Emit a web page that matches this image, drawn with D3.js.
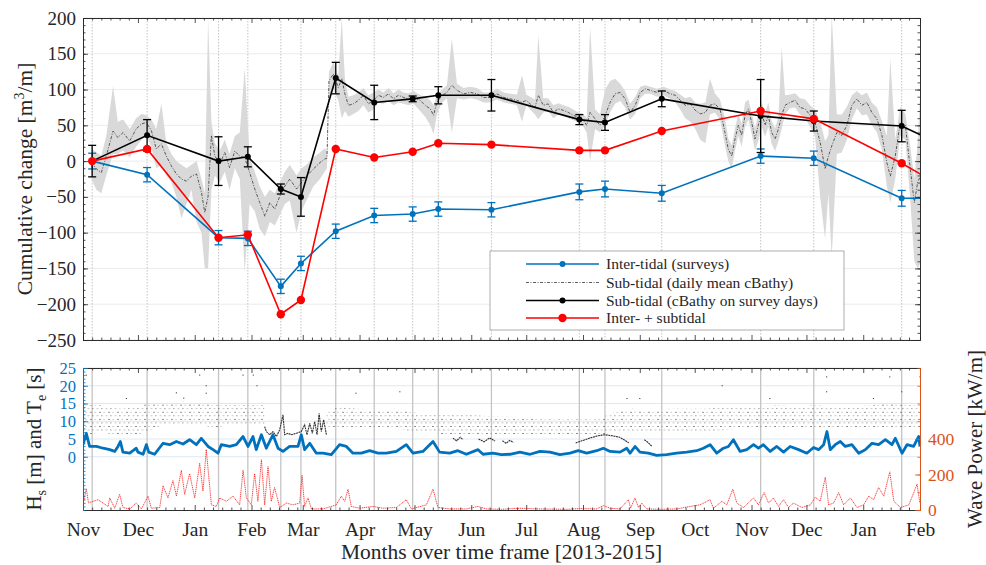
<!DOCTYPE html>
<html><head><meta charset="utf-8">
<script src="https://cdn.jsdelivr.net/npm/d3@7"></script>
<style>
body{margin:0;background:#fff;}
text{font-family:"Liberation Serif","Times New Roman",serif;}
</style></head><body>
<svg id="c" width="986" height="565" font-family="Liberation Serif, serif"></svg>
<script>
// ---------------- DATA ----------------
const startDate = "2013-11-01";
const endDate = "2015-02-01";
const surveyDates = ["2013-11-06","2013-12-06","2014-01-14","2014-01-30","2014-02-17","2014-02-28","2014-03-19","2014-04-09","2014-04-30","2014-05-14","2014-06-12","2014-07-30","2014-08-13","2014-09-13","2014-11-06","2014-12-05","2015-01-22","2015-02-10"];
const interTidal    = [0,-19,-107,-108,-175,-143,-98,-76,-74,-67,-68,-43,-39,-45,7,4,-52,-52];
const interTidalErr = [11,10,10,10,10,10,10,10,10,10,10,11,11,11,10,10,11,10];
const subTidal      = [0,36,0,6,-39,-50,116,82,87,92,92,58,54,87,63,56,49,26];
const subTidalErr   = [22,22,34,14,7,27,22,24,4,12,22,7,11,11,51,14,22,0];
const interPlusSub  = [0,17,-107,-103,-214,-194,17,5,13,25,23,15,15,42,70,59,-3,-31];

// daily mean cBathy (days since startDate) with min/max envelope
const cbDay  = [4.6,7.3,10,12.7,16.4,19,21.9,25.5,29,32,34.6,37.3,40,42.8,45.5,48.3,51,53.7,56.5,59.2,62,64.7,66.5,68.3,70.1,72,74.7,77.4,80,82.9,85.6,88.3,91,93.8,96.5,99.3,102,104.7,107.5,110.2,112.9,116.6,119.3,122,125.8,129.4,132,133.2,134.3,136.7,139.4,141.3,143,144.9,147.6,150.4,153.1,155.8,158.6,161.3,164,166.8,169.5,172.2,175,177.7,180.5,184.1,186.8,189.6,191.4,193.2,196,198.7,201.4,204.2,207.8,211.5,215.1,218.7,222.4,226,229.7,233.3,236.9,239.7,242,244.1,246.8,248.6,251.3,254,256.8,259.5,262.3,265,267.7,270.5,273.2,275,276.9,279.6,282.3,285.1,287.8,290.5,293.3,296,298.7,301.5,304.2,307,309.7,313.3,317,320.6,323.4,326.1,328.8,331.6,334.3,337,339.8,342.3,345,347.8,350.5,352.3,354.2,356,357.8,359.6,361.5,363.3,365.1,366.9,368.7,370.6,372.4,374.2,376,377.9,379.7,381.5,383.3,386.1,388.8,391.5,394.3,397,399.7,402.5,405.2,407,408.8,411.6,414.3,417.1,419.8,422.5,425.3,428,430.7,433.5,436.2,438.9,440.8,443.5,446.2,449,451.7,453.9,455.7,457.2];
const cbMean = [-2,-11,-16,7,42,33,40,28,45,52,54,43,17,24,7,-7,-18,-25,-28,-21,-18,-44,-72,-49,36,7,-4,12,-9,14,7,5,-16,-39,-58,-77,-58,-67,-49,-35,-25,-39,-30,-21,-11,-2,3,4,112,122,103,115,94,78,80,85,92,80,85,92,89,94,87,92,89,87,89,85,78,73,64,82,92,96,106,99,94,96,94,89,89,94,89,87,85,82,85,80,75,92,78,80,68,73,71,68,64,61,57,50,68,59,50,64,82,94,96,87,68,78,96,101,99,96,99,94,92,85,78,80,71,66,68,78,80,73,40,17,7,31,50,36,64,73,54,31,50,68,50,64,40,31,45,64,78,82,85,75,73,64,54,26,-11,7,21,40,36,50,78,87,78,82,68,59,36,-2,-21,7,54,50,-11,-58,-30,-21];
const cbLo   = [-25,-40,-45,-20,10,10,15,5,20,30,35,20,-10,-5,-20,-30,-50,-80,-60,-40,-85,-100,-150,-150,-40,-20,-30,-15,-40,-10,-25,-155,-60,-70,-95,-105,-85,-90,-75,-60,-55,-100,-70,-55,-35,-25,-15,-10,90,100,85,60,70,62,66,70,78,68,72,82,80,84,78,82,80,78,80,70,62,50,38,65,82,88,40,88,86,88,86,82,82,86,82,80,78,55,78,72,65,58,68,70,60,65,64,60,57,54,48,40,0,45,40,50,68,80,84,75,58,66,88,94,94,90,92,87,82,72,60,55,45,30,25,65,68,58,22,0,-10,15,35,20,48,58,38,15,28,48,34,48,24,14,28,45,65,74,75,65,60,48,35,-50,-109,-45,-135,10,12,30,58,74,64,65,50,40,15,-35,-58,-25,35,30,-55,-140,-150,-143];
const cbHi   = [18,12,8,35,105,55,58,45,60,66,64,58,45,80,25,10,0,-5,-10,-5,0,-25,-45,200,55,25,15,30,10,35,40,130,5,-15,-35,-50,-40,-45,-30,-15,-5,-20,-10,-5,5,12,18,14,125,138,120,199,115,90,92,96,102,92,96,100,96,102,95,100,96,95,98,92,90,85,78,92,100,106,171,108,102,104,102,96,96,101,96,94,93,120,93,90,86,176,88,88,78,81,78,76,72,68,66,60,187,72,66,100,112,115,108,98,80,90,104,106,104,101,104,100,98,93,88,90,82,80,82,115,95,86,60,32,22,46,66,52,82,86,68,46,66,82,66,82,56,46,62,159,92,93,95,88,86,78,72,55,28,36,205,65,65,76,92,98,92,96,82,75,56,35,143,30,76,66,20,-25,25,100];

// significant wave height Hs [m]
const hsDay = [0,1.8,3.6,7.3,11,14.6,17.3,19.1,20.4,21.8,25.5,29.1,30,32.8,34.6,35.9,39.1,43.7,47.3,51,54.6,58.2,61.9,64.6,68.3,71,73.7,75.5,80.1,83.7,87.4,90.1,92.8,94.6,97.4,100.1,103.7,106.5,109.2,112.8,117.4,119.2,121,123.8,127.4,131,135.6,140.1,143.8,147.4,152,156.5,161.1,165.6,171.1,176.5,180.2,185.6,191.1,194.7,200.2,204.7,209.3,215.7,218.4,223.9,228.4,233.1,238.6,244.1,249.5,255,260.4,265.9,270.4,275,280.5,284.1,287.8,293.2,296.9,298.7,301.4,304.1,308.7,313.2,318.7,324.1,329.6,335.1,338.7,342.4,346,349.7,352.4,355.1,358.8,362.4,366.1,368.8,371.5,375.2,378.8,382.5,386.1,390.7,395.2,398.9,401.6,404.4,406.2,408,410.7,413.5,416.2,419.8,423.5,427.1,430.8,434.4,438.1,441.7,443.5,447.2,449.9,453.5,456.3,457];
const hsVal = [3.4,6.6,2.9,2.9,2.4,2.0,1.5,2.9,4.3,1.3,1.0,2.4,1.3,0.7,3.4,1.3,0.7,3.8,3.4,4.3,3.6,4.8,3.4,5.2,2.9,2.0,1.0,3.4,2.9,3.4,5.7,2.9,5.7,2.0,6.2,2.4,6.2,2.4,1.5,2.9,2.9,6.2,2.0,3.8,1.0,1.0,0.6,3.4,2.9,1.0,1.0,1.7,1.0,1.0,1.5,3.4,1.0,1.5,4.3,1.3,1.0,1.7,0.7,2.0,0.7,1.0,0.6,0.7,1.3,0.7,1.5,1.3,0.6,1.0,1.7,1.0,1.7,2.4,1.5,1.3,2.4,1.0,2.9,1.3,1.0,0.4,0.6,1.0,1.3,1.7,2.4,3.4,1.0,2.4,2.9,4.8,1.5,2.0,3.4,2.4,3.4,1.5,2.9,1.3,2.9,2.0,1.0,2.6,2.0,3.4,7.1,2.0,3.4,4.3,2.9,3.4,1.0,2.0,3.8,3.4,4.8,3.4,5.2,1.0,3.4,2.9,5.7,2.9];

// energy period Te [s]: main scatter band (lower / upper)
const teBandDay = [0,10,20,30,35,45,55,65,72,80,90,99,null,133,140,150,160,170,180,190,200,210,220,230,240,250,260,270,280,290,300,310,320,330,340,350,360,370,380,390,400,410,420,430,440,450,457];
const teBandLo  = [6,7,6,6,7,9,9,9,8,9,9,9,null,8,8,8,8,8,7,7,6,6,6,6,6,6,6,6,6,7,7,7,7,7,7,7.5,8,8,8,8,8,8,8,8,8,8,8];
const teBandHi  = [14.5,14.5,13.5,14,15,15,15.5,15,14.5,14.5,14.5,14.5,null,13,14,13.5,13,13.5,12.5,12,12,12,11.5,11.5,11,10.5,10.5,10.5,10.5,12.5,13.5,13,13.5,13.5,13.5,14,14,14,14.5,14,14.5,14,14,14.5,15,14.5,14.5];
// Te dense (continuous) stretches
const teLineDay = [99.2,100.1,101.9,103.7,105.6,107.4,109.2,110.1,111.9,113.8,116.5,119.2,121,122.3,123.8,125.2,126.5,127.8,128.9,130.1,131.4,132.9,null,202,204,206,207.5,null,216,219,222,225,null,229,231,233,235,null,269,273,277,281,285,289,293,296,298,null,306.5,308.5,310.5];
const teLineVal = [8.5,7.1,6.2,7.1,5.7,7.6,11.8,6.2,6.6,6.2,6.6,7.1,9.0,6.2,9.4,6.6,9.9,6.2,12.2,7.1,10.4,6.2,null,5.2,4.5,5.5,4.8,null,5.0,4.2,5.3,4.4,null,4.5,3.8,4.6,4.0,null,3.9,4.6,5.3,5.9,6.2,5.9,5.5,4.6,3.9,null,4.8,4.0,3.0];
// isolated long-period Te readings
const teOutDay = [1.8,23.7,51,55,63.7,67.3,67.3,87.4,92,93,95,149,173,297,304,349,375,406,406,431.6,440.5,447,457];
const teOutVal = [23,16.4,18,16.5,23,20,17.9,23,25,23,20,17.9,18.3,16.4,16.4,20,16.4,22.5,18.3,16.4,22.5,18.3,22.5];

// wave power [kW/m]
const wpDay = [0,1.8,3,5.5,8.2,11,13.7,14.6,17.3,20,21.8,25.5,29.1,31.9,35.5,37.3,41.9,43.7,46.4,49.1,51,53.7,55.5,58.2,61,63.7,65.5,67.3,70.1,72.8,74.6,78.3,81.9,85.5,87.4,89.2,91.9,93.7,95.5,97.4,99.2,101,102.8,104.6,107.4,111,114.7,118.3,119.6,121,122.9,124.7,131,138.3,141,142.9,144.7,146.5,151.1,158.3,163.8,171.1,176.5,179.3,187.5,191.1,193.8,200.2,209.3,215.7,220.2,228.4,238.6,249.5,264.1,271.4,280.5,284.1,287.8,293.2,297.8,299,301.4,303.3,305.1,307.8,315.1,324.1,331.4,336.9,342.4,344.2,348.8,351.5,354.8,357,360.6,366.1,368.8,371.9,374.3,377,379.7,382.5,385.2,387.9,392.5,397.1,399.8,402.5,405.3,407.1,409.8,412.6,415.3,419,422.6,426.2,429,431.7,434.4,437.2,440.5,442.7,446.3,450.9,453.6,455.4,456.9];
const wpVal = [29,120,40,49,58,39,20,68,10,88,14,6,39,6,78,10,14,137,68,166,78,224,88,205,68,263,107,341,29,20,68,49,78,29,224,68,29,205,49,283,29,244,49,127,14,39,29,39,195,20,68,6,6,29,78,49,117,20,10,20,10,14,58,6,29,117,14,6,6,20,6,4,10,6,4,8,6,25,10,6,58,10,68,14,39,6,4,6,20,29,58,10,49,29,117,39,14,68,29,98,39,68,20,58,14,39,14,29,72,49,185,29,39,98,29,68,14,29,78,58,127,78,215,49,14,29,98,146,39];

const topTicks = [-250,-200,-150,-100,-50,0,50,100,150,200];
const hsTicks = [0,5,10,15,20,25];
const wpTicks = [0,200,400];
const legendLabels = ["Inter-tidal (surveys)","Sub-tidal (daily mean cBathy)","Sub-tidal (cBathy on survey days)","Inter- + subtidal"];

// ---------------- DRAW ----------------
const FONT="Liberation Serif, Times New Roman, serif";
const BLUE="#0072BD", RED="#FF0000", ORANGE="#D95319", AX="#262626";
const svg = d3.select("#c");
const parse = d3.timeParse("%Y-%m-%d");
const t0 = parse(startDate);
const dd = d => new Date(t0.getTime() + d*86400000);
const L=83, R=920, T1=18, B1=340, T2=368, B2=510;
const x = d3.scaleTime().domain([parse(startDate), parse(endDate)]).range([L,R]);
const yT = d3.scaleLinear().domain([-250,200]).range([B1,T1]);
const yL = d3.scaleLinear().domain([-15,25]).range([B2,T2]);
const yR = d3.scaleLinear().domain([0,800]).range([B2,T2]);
const sDates = surveyDates.map(parse);

const defs = svg.append("defs");
defs.append("clipPath").attr("id","clipT").append("rect").attr("x",L).attr("y",T1).attr("width",R-L).attr("height",B1-T1);
defs.append("clipPath").attr("id","clipB").append("rect").attr("x",L).attr("y",T2).attr("width",R-L).attr("height",B2-T2);
const ph = yL(0)-yL(1);
const pat = defs.append("pattern").attr("id","tedots").attr("patternUnits","userSpaceOnUse")
  .attr("width",9).attr("height",ph*2);
[[0,0,2,0.8,0.65],[4.5,0,1.2,0.8,0.45],[2,ph,1.6,0.8,0.55],[6.5,ph,2,0.8,0.35]].forEach(r=>
  pat.append("rect").attr("x",r[0]).attr("y",r[1]).attr("width",r[2]).attr("height",r[3]).attr("fill","#333").attr("opacity",r[4]));

// ---- TOP PANEL ----
const gT = svg.append("g");
gT.selectAll(".hg").data(topTicks).join("line")
  .attr("x1",L).attr("x2",R).attr("y1",d=>yT(d)).attr("y2",d=>yT(d))
  .attr("stroke","#e6e6e6").attr("stroke-width",0.8);
const pT = gT.append("g").attr("clip-path","url(#clipT)");
pT.selectAll(".vg").data(sDates.filter(d=>d<=parse(endDate))).join("line")
  .attr("x1",d=>x(d)).attr("x2",d=>x(d)).attr("y1",T1).attr("y2",B1)
  .attr("stroke","#b5b5b5").attr("stroke-width",0.8).attr("stroke-dasharray","1.5,1.5");

const cb = cbDay.map((d,i)=>({t:dd(d), m:cbMean[i], lo:cbLo[i], hi:cbHi[i]}));
pT.append("path").datum(cb)
  .attr("d", d3.area().x(d=>x(d.t)).y0(d=>yT(d.lo)).y1(d=>yT(d.hi)))
  .attr("fill","#d9d9d9").attr("stroke","none");
pT.append("path").datum(cb)
  .attr("d", d3.line().x(d=>x(d.t)).y(d=>yT(d.m)))
  .attr("fill","none").attr("stroke","#2a2a2a").attr("stroke-width",0.75).attr("stroke-dasharray","3,1.5,1,1.5");

function series(vals, errs, color, r, lw){
  const data = sDates.map((t,i)=>({t, v:vals[i], e: errs?errs[i]:0}));
  pT.append("path").datum(data).attr("d", d3.line().x(d=>x(d.t)).y(d=>yT(d.v)))
    .attr("fill","none").attr("stroke",color).attr("stroke-width",lw);
  if (errs){
    const g = pT.append("g").attr("stroke",color).attr("stroke-width",1.3);
    data.filter(d=>d.e>0).forEach(d=>{
      const cx=x(d.t);
      g.append("line").attr("x1",cx).attr("x2",cx).attr("y1",yT(d.v-d.e)).attr("y2",yT(d.v+d.e));
      g.append("line").attr("x1",cx-4).attr("x2",cx+4).attr("y1",yT(d.v-d.e)).attr("y2",yT(d.v-d.e));
      g.append("line").attr("x1",cx-4).attr("x2",cx+4).attr("y1",yT(d.v+d.e)).attr("y2",yT(d.v+d.e));
    });
  }
  pT.append("g").selectAll("circle").data(data).join("circle")
    .attr("cx",d=>x(d.t)).attr("cy",d=>yT(d.v)).attr("r",r).attr("fill",color);
}
series(interTidal, interTidalErr, BLUE, 3, 1.6);
series(subTidal, subTidalErr, "#000", 3, 1.6);
series(interPlusSub, null, RED, 4.2, 1.6);

function frameAxes(g, top, bottom){
  const months = d3.timeMonth.range(parse(startDate), d3.timeDay.offset(parse(endDate),1));
  const minor = [];
  months.forEach(m=>[5,10,15,20,25].forEach(k=>{const d=d3.timeDay.offset(m,k); if(d<parse(endDate)) minor.push(d);}));
  g.append("g").attr("transform",`translate(0,${bottom})`).call(d3.axisBottom(x).tickValues(minor).tickSize(-2.5).tickFormat("").tickSizeOuter(0));
  g.append("g").attr("transform",`translate(0,${top})`).call(d3.axisTop(x).tickValues(minor).tickSize(-2.5).tickFormat("").tickSizeOuter(0));
  g.append("g").attr("transform",`translate(0,${top})`).call(d3.axisTop(x).tickValues(months).tickSize(-5).tickFormat("").tickSizeOuter(0));
  return months;
}
const gTA = svg.append("g");
const months = frameAxes(gTA, T1, B1);
gTA.append("g").attr("transform",`translate(0,${B1})`).call(d3.axisBottom(x).tickValues(months).tickSize(-5).tickFormat("").tickSizeOuter(0));
gTA.append("g").attr("transform",`translate(${L},0)`).call(d3.axisLeft(yT).tickValues(d3.range(-250,201,10)).tickSize(-2.5).tickFormat("").tickSizeOuter(0));
gTA.append("g").attr("transform",`translate(${R},0)`).call(d3.axisRight(yT).tickValues(d3.range(-250,201,10)).tickSize(-2.5).tickFormat("").tickSizeOuter(0));
gTA.append("g").attr("transform",`translate(${R},0)`).call(d3.axisRight(yT).tickValues(topTicks).tickSize(-5).tickFormat("").tickSizeOuter(0));
const yAx = gTA.append("g").attr("transform",`translate(${L},0)`).call(d3.axisLeft(yT).tickValues(topTicks).tickSize(-5).tickPadding(7).tickSizeOuter(0));
gTA.selectAll("g").attr("font-family",FONT);
yAx.selectAll("text").attr("font-size",19).attr("fill",AX).attr("font-family",FONT);
gTA.selectAll("path.domain").attr("stroke",AX).attr("stroke-width",0.8);
gTA.selectAll(".tick line").attr("stroke",AX).attr("stroke-width",0.8);
gTA.selectAll("text").filter(function(){return this.textContent==="";}).remove();

const t1 = svg.append("text").attr("transform",`translate(32,${(T1+B1)/2}) rotate(-90)`)
  .attr("text-anchor","middle").attr("font-size",21.5).attr("fill",AX).attr("font-family",FONT);
t1.append("tspan").text("Cumulative change [m");
t1.append("tspan").text("3").attr("font-size",14).attr("dy",-8);
t1.append("tspan").text("/m]").attr("dy",8);

// legend
const lg = svg.append("g").attr("font-family",FONT);
lg.append("rect").attr("x",490).attr("y",251).attr("width",354).attr("height",79).attr("fill","#fff").attr("stroke","#9a9a9a").attr("stroke-width",0.8);
const ly = [264,282.5,300.5,318];
const lstyle = [{c:BLUE,r:3,dash:null,w:1.6},{c:"#2a2a2a",r:0,dash:"3,1.5,1,1.5",w:0.75},{c:"#000",r:3,dash:null,w:1.6},{c:RED,r:4.2,dash:null,w:1.6}];
legendLabels.forEach((lab,i)=>{
  const s=lstyle[i];
  lg.append("line").attr("x1",526).attr("x2",599).attr("y1",ly[i]).attr("y2",ly[i]).attr("stroke",s.c).attr("stroke-width",s.w).attr("stroke-dasharray",s.dash);
  if(s.r) lg.append("circle").attr("cx",562.5).attr("cy",ly[i]).attr("r",s.r).attr("fill",s.c);
  lg.append("text").attr("x",606).attr("y",ly[i]+5).attr("font-size",15.5).attr("fill",AX).attr("font-family",FONT).text(lab);
});

// ---- BOTTOM PANEL ----
const gB = svg.append("g");
gB.selectAll(".hg").data(hsTicks).join("line")
  .attr("x1",L).attr("x2",R).attr("y1",d=>yL(d)).attr("y2",d=>yL(d))
  .attr("stroke","#dce9f5").attr("stroke-width",1);
const pB = gB.append("g").attr("clip-path","url(#clipB)");
pB.selectAll(".vg").data(sDates.filter(d=>d<=parse(endDate))).join("line")
  .attr("x1",d=>x(d)).attr("x2",d=>x(d)).attr("y1",T2).attr("y2",B2)
  .attr("stroke","#c4c4c4").attr("stroke-width",1.3);

const teB = teBandDay.map((d,i)=>({d, lo:teBandLo[i], hi:teBandHi[i]}));
pB.append("path").datum(teB)
  .attr("d", d3.area().defined(d=>d.d!==null).x(d=>x(dd(d.d))).y0(d=>yL(d.lo)).y1(d=>yL(d.hi)))
  .attr("fill","url(#tedots)");
const teL = teLineDay.map((d,i)=>({d, v:teLineVal[i]}));
pB.append("path").datum(teL)
  .attr("d", d3.line().defined(d=>d.d!==null).x(d=>x(dd(d.d))).y(d=>yL(d.v)))
  .attr("fill","none").attr("stroke","#333").attr("stroke-width",1.1).attr("stroke-dasharray","2,0.6");
pB.append("g").selectAll("rect").data(teOutDay.map((d,i)=>({d,v:teOutVal[i]}))).join("rect")
  .attr("x",d=>x(dd(d.d))-0.6).attr("y",d=>yL(d.v)-0.5).attr("width",1.2).attr("height",1).attr("fill","#444");

const wp = wpDay.map((d,i)=>({d, v:wpVal[i]}));
pB.append("path").datum(wp)
  .attr("d", d3.line().x(d=>x(dd(d.d))).y(d=>yR(d.v)))
  .attr("fill","none").attr("stroke",RED).attr("stroke-width",0.8).attr("stroke-dasharray","1.2,0.7").attr("opacity",0.95);

const hs = hsDay.map((d,i)=>({d, v:hsVal[i]}));
pB.append("path").datum(hs)
  .attr("d", d3.line().x(d=>x(dd(d.d))).y(d=>yL(d.v)))
  .attr("fill","none").attr("stroke",BLUE).attr("stroke-width",2.8).attr("stroke-linejoin","round");

const gBA = svg.append("g");
frameAxes(gBA, T2, B2);
const xAx = gBA.append("g").attr("transform",`translate(0,${B2})`).call(d3.axisBottom(x).tickValues(months).tickSize(-5).tickPadding(12).tickFormat(d3.timeFormat("%b")).tickSizeOuter(0));
gBA.selectAll("g").attr("font-family",FONT);
xAx.selectAll("text").attr("font-size",19.5).attr("fill",AX).attr("font-family",FONT);
gBA.selectAll("path.domain").attr("stroke",AX).attr("stroke-width",0.8);
gBA.selectAll(".tick line").attr("stroke",AX).attr("stroke-width",0.8);
gBA.selectAll("text").filter(function(){return this.textContent==="";}).remove();

const lAx = svg.append("g").attr("transform",`translate(${L},0)`);
lAx.call(d3.axisLeft(yL).tickValues(d3.range(-15,26,1)).tickSize(-2.5).tickFormat("").tickSizeOuter(0));
lAx.selectAll("text").remove();
lAx.append("g").call(d3.axisLeft(yL).tickValues(hsTicks).tickSize(-5).tickPadding(7).tickSizeOuter(0));
lAx.selectAll("path.domain").attr("stroke",BLUE).attr("stroke-width",1);
lAx.selectAll(".tick line").attr("stroke",BLUE).attr("stroke-width",0.8);
lAx.selectAll("g").attr("font-family",FONT);
lAx.selectAll("text").attr("font-size",16.5).attr("fill",BLUE).attr("font-family",FONT);

const rAx = svg.append("g").attr("transform",`translate(${R},0)`);
rAx.call(d3.axisRight(yR).tickValues(d3.range(0,801,100)).tickSize(-2.5).tickFormat("").tickSizeOuter(0));
rAx.selectAll("text").remove();
rAx.append("g").call(d3.axisRight(yR).tickValues(wpTicks).tickSize(-5).tickPadding(8).tickSizeOuter(0));
rAx.selectAll("path.domain").attr("stroke",ORANGE).attr("stroke-width",1);
rAx.selectAll(".tick line").attr("stroke",ORANGE).attr("stroke-width",0.8);
rAx.selectAll("g").attr("font-family",FONT);
rAx.selectAll("text").attr("font-size",17.5).attr("fill",ORANGE).attr("font-family",FONT);

const t2 = svg.append("text").attr("transform",`translate(41,${(T2+B2)/2}) rotate(-90)`)
  .attr("text-anchor","middle").attr("font-size",21).attr("fill",AX).attr("font-family",FONT);
t2.append("tspan").text("H");
t2.append("tspan").text("s").attr("font-size",14).attr("dy",5);
t2.append("tspan").text(" [m] and T").attr("dy",-5);
t2.append("tspan").text("e").attr("font-size",14).attr("dy",5);
t2.append("tspan").text(" [s]").attr("dy",-5);
svg.append("text").attr("transform",`translate(982,${(T2+B2)/2}) rotate(-90)`)
  .attr("text-anchor","middle").attr("font-size",21).attr("fill",AX).attr("font-family",FONT).text("Wave Power [kW/m]");
svg.append("text").attr("x",(L+R)/2).attr("y",559).attr("text-anchor","middle")
  .attr("font-size",21.5).attr("fill",AX).attr("font-family",FONT).text("Months over time frame [2013-2015]");
</script>
</body></html>
